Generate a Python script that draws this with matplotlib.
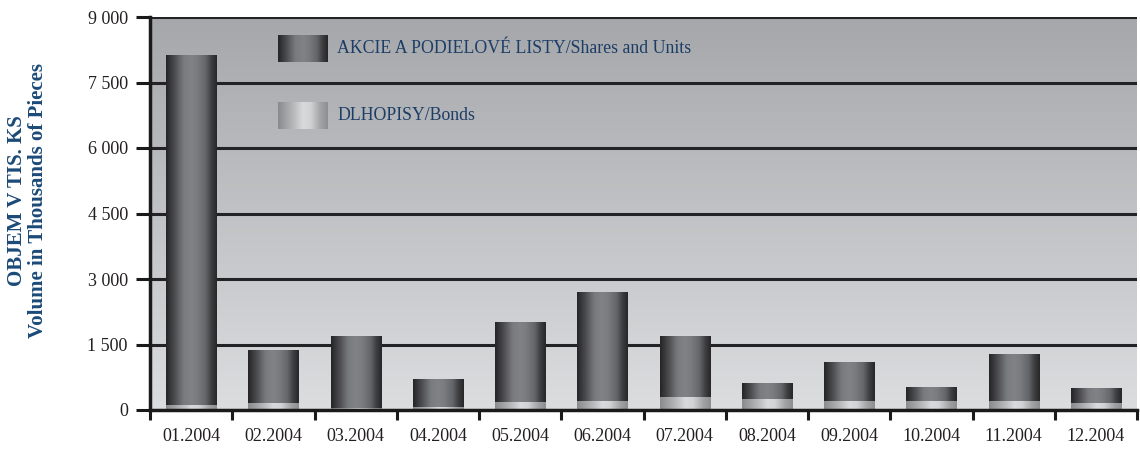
import numpy as np
import matplotlib
matplotlib.use("Agg")
import matplotlib.pyplot as plt
from matplotlib.colors import LinearSegmentedColormap

months = ["01.2004", "02.2004", "03.2004", "04.2004", "05.2004", "06.2004",
          "07.2004", "08.2004", "09.2004", "10.2004", "11.2004", "12.2004"]
bonds = [115, 170, 50, 75, 190, 213, 300, 250, 206, 206, 206, 160]
totals = [8130, 1374, 1695, 710, 2015, 2700, 1695, 618, 1100, 527, 1282, 504]
shares = [t - b for t, b in zip(totals, bonds)]
yticks = [0, 1500, 3000, 4500, 6000, 7500, 9000]
ytick_labels = ["0", "1 500", "3 000", "4 500", "6 000", "7 500", "9 000"]
legend_labels = ["AKCIE A PODIELOVÉ LISTY/Shares and Units", "DLHOPISY/Bonds"]

shares_cmap = LinearSegmentedColormap.from_list("sh", [
    (0.0, "#242426"), (0.15, "#48484b"), (0.35, "#7a7b7e"), (0.5, "#818285"),
    (0.62, "#7a7b7e"), (0.78, "#646568"), (0.9, "#3c3c3f"), (1.0, "#272729")])
bonds_cmap = LinearSegmentedColormap.from_list("bd", [
    (0.0, "#8a8a8c"), (0.3, "#b6b7b9"), (0.5, "#d9dadc"), (0.65, "#d2d3d5"),
    (0.85, "#a2a3a5"), (1.0, "#8e8e90")])
bg_cmap = LinearSegmentedColormap.from_list("bg", ["#dcdddf", "#a5a7aa"])

serif = ["Liberation Serif", "DejaVu Serif"]
plt.rcParams["font.family"] = serif

fig = plt.figure(figsize=(11.4, 4.49), dpi=100)
ax = fig.add_axes([150 / 1140, 39 / 449, 987 / 1140, 393 / 449])

x = np.arange(len(months))
ax.set_xlim(-0.5, len(months) - 0.5)
ax.set_ylim(0, 9000)

# background gradient
grad = np.linspace(0, 1, 256).reshape(-1, 1)
ax.imshow(grad, cmap=bg_cmap, origin="lower", extent=[0, 1, 0, 1],
          transform=ax.transAxes, aspect="auto", zorder=0)

for yv in yticks[1:]:
    ax.axhline(yv, color="#232325", lw=2.2, zorder=1)

width = 0.61
b1 = ax.bar(x, bonds, width, color="none", zorder=2)
b2 = ax.bar(x, shares, width, bottom=bonds, color="none", zorder=2)

hgrad = np.linspace(0, 1, 256).reshape(1, -1)
for bars, cmap in ((b1, bonds_cmap), (b2, shares_cmap)):
    for p in bars:
        x0, y0 = p.get_x(), p.get_y()
        w, h = p.get_width(), p.get_height()
        im = ax.imshow(hgrad, cmap=cmap, extent=[x0, x0 + w, y0, y0 + h],
                       aspect="auto", zorder=3, interpolation="bilinear")
        im.set_clip_path(p)

ax.set_xlim(-0.5, len(months) - 0.5)
ax.set_ylim(0, 9000)

# legend swatches
for i, (lab, cmap) in enumerate(zip(legend_labels, (shares_cmap, bonds_cmap))):
    top = 35 + i * 67
    y1 = 1 - (top - 17) / 393
    y0 = 1 - (top + 27 - 17) / 393
    xa0 = (278 - 150) / 987
    xa1 = (328 - 150) / 987
    ax.imshow(hgrad, cmap=cmap, extent=[xa0, xa1, y0, y1],
              transform=ax.transAxes, aspect="auto", zorder=4)
    ax.text((337 - 150) / 987, (y0 + y1) / 2, lab, transform=ax.transAxes,
            color="#1c3d66", fontsize=12.8, va="center", ha="left", zorder=5)

ax.set_yticks(yticks)
ax.set_yticklabels(ytick_labels, fontsize=13, color="#231f20")
ax.set_xticks(x)
ax.set_xticklabels(months, fontsize=13, color="#231f20")
ax.set_xticks(np.arange(len(months) + 1) - 0.5, minor=True)
ax.tick_params(axis="x", which="major", length=0, pad=13)
ax.tick_params(axis="x", which="minor", length=7, width=2.2, color="#1a1a1a", direction="out")
ax.tick_params(axis="y", length=10, width=2.2, color="#1a1a1a", direction="out", pad=6)

for s in ("top", "right"):
    ax.spines[s].set_visible(False)
ax.spines["left"].set_linewidth(2.5)
ax.spines["bottom"].set_linewidth(2.5)
ax.spines["left"].set_color("#1a1a1a")
ax.spines["bottom"].set_color("#1a1a1a")
ax.spines["left"].set_zorder(6)
ax.spines["bottom"].set_zorder(6)

yc = 1 - 201 / 449
fig.text(17 / 1140, yc, "OBJEM V TIS. KS", rotation=90, ha="center", va="center",
         fontsize=15, fontweight="bold", color="#1c4a78")
fig.text(38 / 1140, yc, "Volume in Thousands of Pieces", rotation=90, ha="center",
         va="center", fontsize=15, fontweight="bold", color="#1c4a78")

fig.savefig("out.png", dpi=100)
